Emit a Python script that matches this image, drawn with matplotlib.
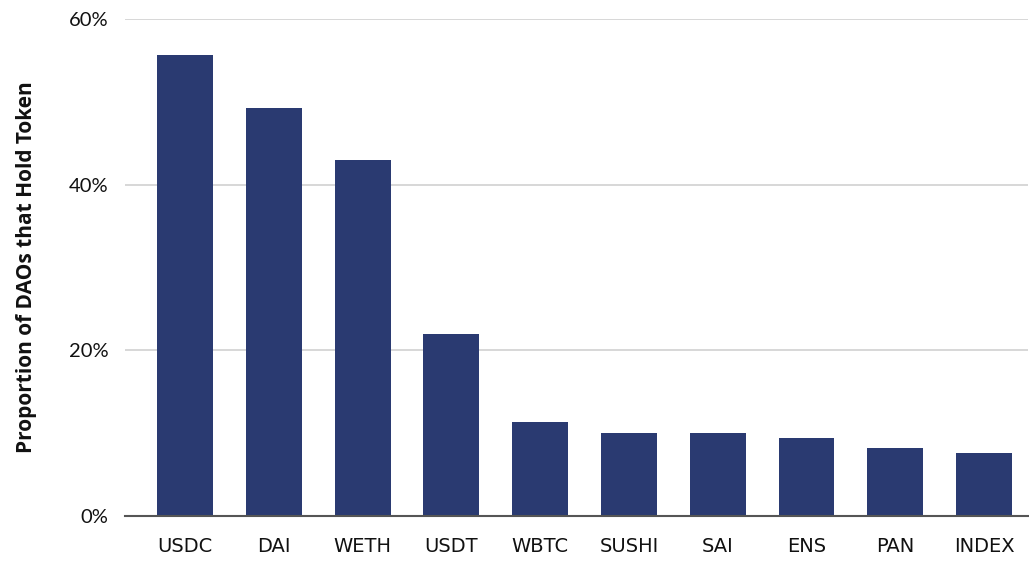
import matplotlib.pyplot as plt
from matplotlib.ticker import FuncFormatter

tokens = ["USDC", "DAI", "WETH", "USDT", "WBTC", "SUSHI", "SAI", "ENS", "PAN", "INDEX"]
share = [55.7, 49.3, 43.0, 22.0, 11.35, 10.0, 10.0, 9.4, 8.2, 7.6]
yticks = [0, 20, 40, 60]

BAR_COLOR = "#2a3a71"

fig = plt.figure(figsize=(10.29, 5.61), dpi=100)
ax = fig.add_axes([125 / 1029, 45 / 561, 903 / 1029, 497 / 561])

x = list(range(len(tokens)))
ax.bar(x, share, width=0.63, color=BAR_COLOR, zorder=3)

ax.set_ylim(0, 60)
ax.set_xlim(-0.676, len(tokens) - 1 + 0.495)
ax.set_yticks(yticks)
ax.yaxis.set_major_formatter(FuncFormatter(lambda v, _: f"{v:.0f}%"))
ax.grid(axis="y", color="#d4d4d4", linewidth=1.3, zorder=0)
ax.set_xticks(x)
ax.set_xticklabels(tokens, fontsize=14, family="DejaVu Sans", color="#111111")
for lbl in ax.get_yticklabels():
    lbl.set_fontsize(14.5)
    lbl.set_family("Lato")
    lbl.set_color("#111111")

ax.tick_params(axis="both", length=0)
ax.tick_params(axis="y", pad=12)
ax.tick_params(axis="x", pad=15)

for side in ["top", "right", "left"]:
    ax.spines[side].set_visible(False)
ax.spines["bottom"].set_color("#555555")
ax.spines["bottom"].set_linewidth(1.5)
ax.spines["bottom"].set_zorder(4)

ax.set_ylabel("Proportion of DAOs that Hold Token", fontsize=15, fontweight="bold",
              family="Open Sans", color="#111111", labelpad=23)

fig.savefig("out.png", dpi=100)
